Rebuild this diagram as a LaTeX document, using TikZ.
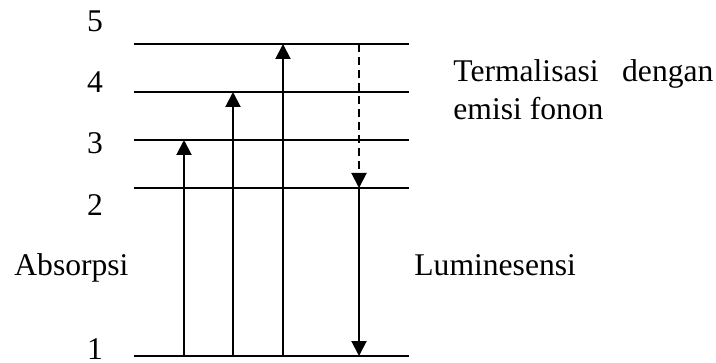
\documentclass[tikz,border=0pt]{standalone}
\usepackage{fontspec}
\setmainfont{Liberation Serif}
\usetikzlibrary{arrows.meta}
\begin{document}
\begin{tikzpicture}[x=0.5pt,y=-0.5pt,
  level/.style={line width=1pt},
  trans/.style={line width=1pt,-{Triangle[length=7.5pt,width=7.5pt]}},
  phonon/.style={trans,dash pattern=on 4pt off 2.5pt},
  lbl/.style={font=\fontsize{15.8}{19}\selectfont,inner sep=0pt}]
\useasboundingbox (0,0) rectangle (716,363);

% energy levels
\foreach \n/\y in {1/356,2/188,3/140,4/92,5/44}{
  \coordinate (E\n w) at (134,\y);
  \coordinate (E\n e) at (409,\y);
  \draw[level] (E\n w) -- (E\n e);
}

% level numbers
\node[lbl,anchor=base] (n5) at (95,32) {5};
\node[lbl,anchor=base] (n4) at (95,93) {4};
\node[lbl,anchor=base] (n3) at (95,154) {3};
\node[lbl,anchor=base] (n2) at (95,215) {2};
\node[lbl,anchor=base] (n1) at (95,359) {1};

% absorption transitions
\coordinate (a3s) at (184,356); \coordinate (a3e) at (184,140);
\coordinate (a4s) at (233,356); \coordinate (a4e) at (233,92);
\coordinate (a5s) at (283,356); \coordinate (a5e) at (283,44);
\draw[trans] (a3s) -- (a3e);
\draw[trans] (a4s) -- (a4e);
\draw[trans] (a5s) -- (a5e);

% thermalisation and luminescence
\coordinate (t5) at (359,44);
\coordinate (t2) at (359,188);
\coordinate (t1) at (359,356);
\draw[phonon] (t5) -- (t2);
\draw[trans] (t2) -- (t1);

% labels
\node[lbl,anchor=base west] (abs) at (14,275) {Absorpsi};
\node[lbl,anchor=base west] (lum) at (414,275) {Luminesensi};
\node[lbl,anchor=base west] (term1) at (453,82) {\makebox[130pt][s]{Termalisasi dengan}};
\node[lbl,anchor=base west] (term2) at (453,120) {emisi fonon};
\end{tikzpicture}
\end{document}
